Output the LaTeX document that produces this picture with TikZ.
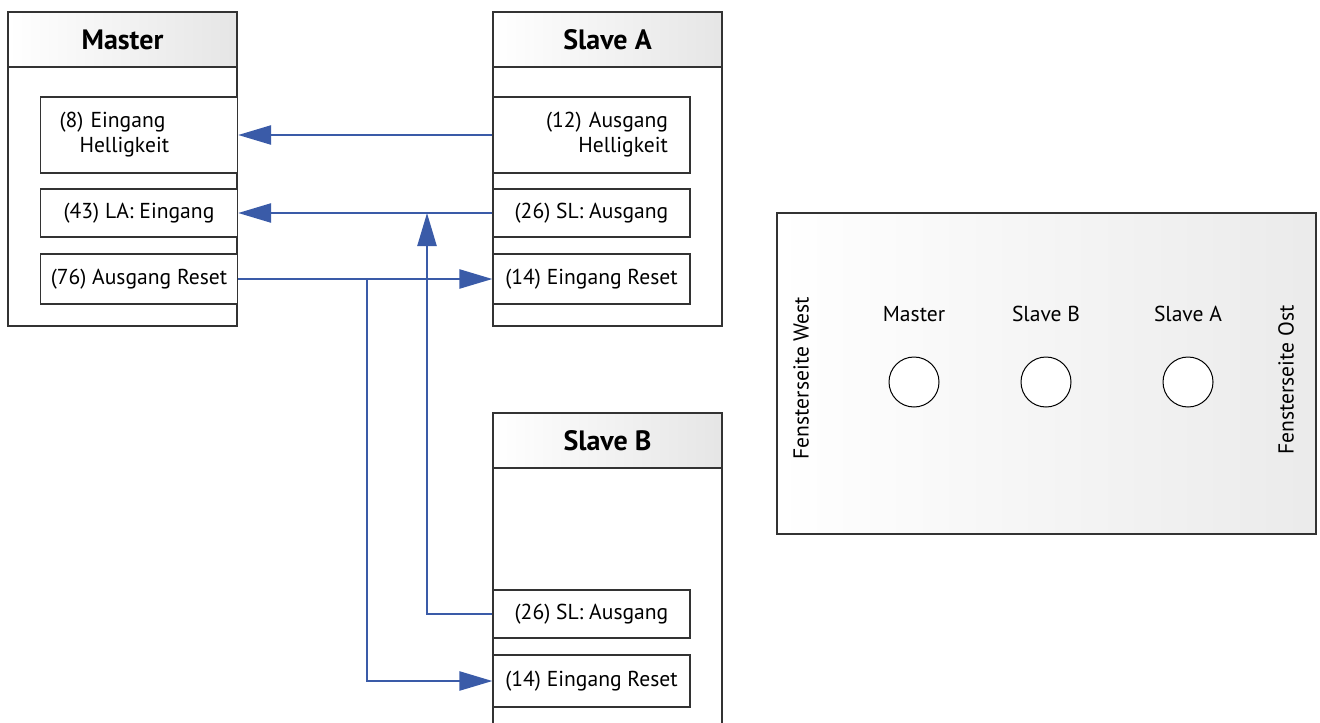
\documentclass[tikz,border=0pt]{standalone}
\usepackage{fontspec}
\setmainfont{PT Sans}
\usetikzlibrary{arrows.meta}

\definecolor{link blue}{RGB}{58,91,168}
\colorlet{box edge}{black!80}
\colorlet{head shade}{black!10}
\tikzset{
  frame/.style={draw=box edge, line width=0.6pt},
  head/.style={draw=box edge, line width=0.6pt, left color=white, right color=head shade,
    minimum width=114.5pt, minimum height=27.5pt, font=\bfseries\fontsize{14}{16}\selectfont},
  port/.style={draw=box edge, line width=0.6pt, fill=white, minimum width=98.5pt,
    font=\fontsize{10.8}{12.5}\selectfont},
  plain/.style={font=\fontsize{10.8}{12.5}\selectfont},
  spot/.style={circle, draw=black, line width=0.5pt, fill=white, minimum size=25pt, inner sep=0pt}
  }
\tikzstyle{link} = [draw=link blue, line width=1.2pt, -{Triangle[length=16.5pt,width=9.5pt]}]

\begin{document}
\begin{tikzpicture}[x=0.5pt,y=-0.5pt]
   \useasboundingbox (0,0) rectangle (1320,722);

   % Master
   \draw[frame] (8,12) rectangle (237,326);
   \node[head] (mhead) at (122.5,39.5) {Master};
   \node[port, minimum height=38pt, text width=79.5pt, inner xsep=9.5pt, align=left] (m1) at (139,135) {(8) Eingang\\\hspace*{10pt}Helligkeit};
   \node[port, minimum height=24pt] (m2) at (139,213) {(43) LA: Eingang};
   \node[port, minimum height=25pt] (m3) at (139,279) {(76) Ausgang Reset};

   % Slave A
   \draw[frame] (493,12) rectangle (722,326);
   \node[head] (sahead) at (607.5,39.5) {Slave A};
   \node[port, minimum height=38pt, text width=76.5pt, inner xsep=11pt, align=right] (sa1) at (591.5,135) {(12) Ausgang\hspace*{5pt}\\Helligkeit};
   \node[port, minimum height=24pt] (sa2) at (591.5,213) {(26) SL: Ausgang};
   \node[port, minimum height=25pt] (sa3) at (591.5,279) {(14) Eingang Reset};

   % Slave B (runs off the bottom)
   \draw[frame] (493,725) -- (493,413) -- (722,413) -- (722,725);
   \node[head] (sbhead) at (607.5,440.5) {Slave B};
   \node[port, minimum height=24pt] (sb1) at (591.5,614) {(26) SL: Ausgang};
   \node[port, minimum height=26pt] (sb2) at (591.5,681) {(14) Eingang Reset};

   % links
   \coordinate (split) at (367,279);
   \coordinate (join) at (427,213);
   \path[link] (sa1.west) -- (m1.east);
   \path[link] (sa2.west) -- (m2.east);
   \path[link] (m3.east) -- (sa3.west);
   \path[link] (split) |- (sb2.west);
   \path[link] (sb1.west) -| (join);

   % room layout
   \draw[frame, left color=white, right color=black!8] (777,213) rectangle (1316,534);
   \node[plain] (lm) at (914,314) {Master};
   \node[plain] (lb) at (1046,314) {Slave B};
   \node[plain] (la) at (1188,314) {Slave A};
   \node[spot] (pm) at (914,382) {};
   \node[spot] (pb) at (1046,382) {};
   \node[spot] (pa) at (1188,382) {};
   \node[plain, rotate=90] (west) at (801,378) {Fensterseite West};
   \node[plain, rotate=90] (east) at (1286,380) {Fensterseite Ost};
\end{tikzpicture}
\end{document}
